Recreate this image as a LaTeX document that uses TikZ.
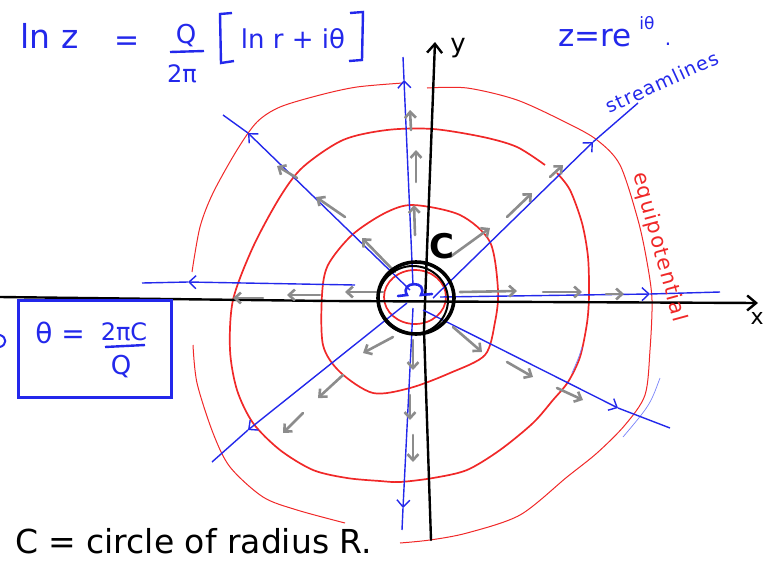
\documentclass[tikz,border=0pt]{standalone}
\usepackage{fontspec}
\setmainfont{DejaVu Sans}
\usetikzlibrary{arrows.meta}
\definecolor{pblue}{RGB}{35,40,235}
\definecolor{lblue}{RGB}{120,130,250}
\definecolor{pred}{RGB}{240,40,40}
\definecolor{pgray}{RGB}{140,140,140}
\tikzset{
  stream/.style={pblue, line width=1.4pt},
  stip/.style={-{Straight Barb[length=7pt,width=13pt]}},
  equi/.style={pred, line width=1.7pt},
  equithin/.style={pred, line width=1pt},
  flow/.style={pgray, line width=2.6pt, line cap=round, -{Straight Barb[length=6pt,width=11pt]}},
  axis/.style={black, line width=2.4pt, line cap=round},
  lbl/.style={inner sep=0pt, outer sep=0pt},
  bluetxt/.style={lbl, text=pblue},
}
\newcommand{\fs}[1]{\fontsize{#1}{#1}\selectfont}
\begin{document}
\begin{tikzpicture}[x=1pt,y=-1pt]
\useasboundingbox (0,0) rectangle (781,576);

% ---------- equipotentials ----------
\draw[equi] (415,297) ellipse [x radius=31, y radius=27];
\draw[equi] plot[smooth cycle] coordinates {(413,205) (460,215) (490,242) (498,290) (495,322) (485,355) (450,373) (410,388) (373,393) (340,372) (323,345) (322,295) (328,265) (352,235) (385,213)};
\draw[equi] plot[smooth] coordinates {(557,173) (570,190) (582,223) (588,257) (589,295) (587,323) (580,357) (568,382) (553,400) (533,423) (500,450) (467,470) (433,478) (400,482) (380,481) (347,478) (313,470) (280,450) (253,423) (237,390) (230,350) (233,300) (253,247) (280,197) (303,167) (343,140) (387,130) (433,129) (483,137) (517,147) (545,165)};
\draw[equithin] plot[smooth] coordinates {(192,272) (200,227) (213,193) (237,150) (257,122) (280,107) (320,95) (357,87) (403,83)};
\draw[equithin] plot[smooth] coordinates {(427,88) (467,88) (517,100) (567,123) (597,140) (620,165) (638,220) (647,262) (652,300) (650,350) (645,395) (625,425) (597,453) (567,477) (520,515) (467,533) (430,540) (400,543)};
\draw[equithin] plot[smooth] coordinates {(193,345) (197,383) (213,433) (230,467) (263,497) (297,510) (345,523)};

% thin blue arcs
\draw[lblue, line width=0.7pt] (582,347) .. controls (579,357) .. (572,373);
\draw[lblue, line width=0.7pt] (660,378) .. controls (650,405) .. (623,437);

% ---------- axes ----------
\coordinate (xL) at (0,297);
\coordinate (xM) at (330,301);
\coordinate (xR) at (758,303);
\draw[axis, -{Straight Barb[length=9pt,width=15pt]}] (xL) -- (xM) -- (xR);
\coordinate (yB) at (431,540);
\coordinate (yM1) at (424,330);
\coordinate (yM2) at (427,250);
\coordinate (yT) at (435,42);
\draw[axis, -{Straight Barb[length=9pt,width=15pt]}] (yB) -- (yM1) -- (yM2) -- (yT);
\node[lbl, font=\fs{22}] (xlab) at (757,318) {x};
\node[lbl, font=\fs{26}] (ylab) at (458,48) {y};

% ---------- streamlines ----------
\coordinate (O) at (413,291);
\coordinate (upS) at (413,285); \coordinate (upA) at (404,80);  \coordinate (upE) at (403,57);
\coordinate (dnS) at (413,308); \coordinate (dnA) at (403,508); \coordinate (dnE) at (402,530);
\coordinate (lfS) at (355,285); \coordinate (lfA) at (188,282); \coordinate (lfE) at (142,283);
\coordinate (rtS) at (440,297); \coordinate (rtA) at (650,294); \coordinate (rtE) at (720,292);
\coordinate (ulS) at (410,290); \coordinate (ulA) at (248,133); \coordinate (ulE) at (223,115);
\coordinate (urS) at (433,298); \coordinate (urA) at (593,142); \coordinate (urE) at (638,103);
\coordinate (llS) at (407,303); \coordinate (llA) at (248,430); \coordinate (llE) at (212,462);
\coordinate (lrS) at (423,310); \coordinate (lrA) at (618,408); \coordinate (lrE) at (670,428);
\foreach \d in {up,dn,lf,rt,ul,ur,ll,lr}{
  \draw[stream, stip] (\d S) -- (\d A);
  \draw[stream] (\d A) -- (\d E);
}

% ---------- gray velocity arrows ----------
\foreach \a/\b in {
  {(383,292)}/{(345,292)}, {(320,295)}/{(287,295)}, {(263,298)}/{(233,298)},
  {(460,292)}/{(517,291)}, {(543,292)}/{(582,292)}, {(606,294)}/{(624,294)},
  {(415,235)}/{(414,205)}, {(416,182)}/{(416,150)}, {(411,130)}/{(410,110)},
  {(413,340)}/{(413,370)}, {(410,395)}/{(410,420)}, {(413,435)}/{(413,462)},
  {(395,272)}/{(362,238)}, {(345,217)}/{(316,197)}, {(297,178)}/{(277,166)},
  {(450,257)}/{(490,228)}, {(507,217)}/{(532,193)}, {(550,177)}/{(563,165)},
  {(393,337)}/{(363,353)}, {(343,375)}/{(318,398)}, {(303,413)}/{(283,433)},
  {(453,327)}/{(482,352)}, {(507,362)}/{(533,377)}, {(557,388)}/{(583,400)}}{
  \draw[flow] \a -- \b;
}

% ---------- circle C ----------
\coordinate (Cc) at (416,298);
\draw[black, line width=3.6pt] (Cc) ellipse [x radius=38, y radius=36];
\draw[black, line width=2pt] (413,300) ellipse [x radius=35, y radius=34];
\node[lbl, font=\bfseries\fs{34}] (Clab) at (442,246) {C};

% source symbol
\draw[pblue, line width=2.6pt, line cap=round] (398,296) -- (407,295) .. controls (399,281) and (429,280) .. (421,295) -- (432,294);

% ---------- texts ----------
\node[bluetxt, font=\fs{33}, anchor=base] (lnz) at (50,48) {ln\,\,z};
\node[bluetxt, font=\fs{30}, anchor=base] (eq1) at (127,50) {=};
\node[bluetxt, font=\fs{26}, anchor=base] (Qn) at (186,43) {Q};
\coordinate (fb1) at (170,52); \coordinate (fb2) at (204,51);
\draw[pblue, line width=2.4pt] (fb1) -- (fb2);
\node[bluetxt, font=\fs{24}, anchor=base] (tpi) at (182,82) {2π};
\coordinate (lb1) at (232,13); \coordinate (lb2) at (220,14); \coordinate (lb3) at (221,63); \coordinate (lb4) at (234,61);
\draw[pblue, line width=2.4pt] (lb1) -- (lb2) -- (lb3) -- (lb4);
\node[bluetxt, font=\fs{26}, anchor=base] (brk) at (293,48) {ln r + iθ};
\coordinate (rb1) at (350,13); \coordinate (rb2) at (363,12); \coordinate (rb3) at (362,60); \coordinate (rb4) at (349,61);
\draw[pblue, line width=2.4pt] (rb1) -- (rb2) -- (rb3) -- (rb4);

\node[bluetxt, font=\fs{31}, anchor=base] (zre) at (595,46) {z=re};
\node[bluetxt, font=\fs{17}, anchor=base] (sup) at (647,29) {iθ};
\node[bluetxt, font=\fs{20}, anchor=base] (dot) at (668,45) {.};

\node[bluetxt, font=\fs{19}\addfontfeatures{LetterSpace=6}, rotate=24.7] (sl) at (662,82) {streamlines};
\node[lbl, text=pred, font=\fs{21}\addfontfeatures{LetterSpace=6}, rotate=-74.7] (ep) at (659,247) {equipotential};

% boxed relation
\draw[pblue, line width=3pt] (18,300) rectangle (171,397);
\node[bluetxt, font=\fs{28}, anchor=base] (th) at (60,343) {θ =};
\node[bluetxt, font=\fs{24}, anchor=base] (num) at (124,340) {2πC};
\coordinate (bb1) at (105,347); \coordinate (bb2) at (145,345);
\draw[pblue, line width=2.4pt] (bb1) -- (bb2);
\node[bluetxt, font=\fs{26}, anchor=base] (den) at (121,374) {Q};
\draw[pblue, line width=2pt] (0,335) .. controls (7,337) and (7,345) .. (0,347);

\node[lbl, font=\fs{33}, anchor=base west] (cap) at (15,553) {C = circle of radius R.};
\end{tikzpicture}
\end{document}
